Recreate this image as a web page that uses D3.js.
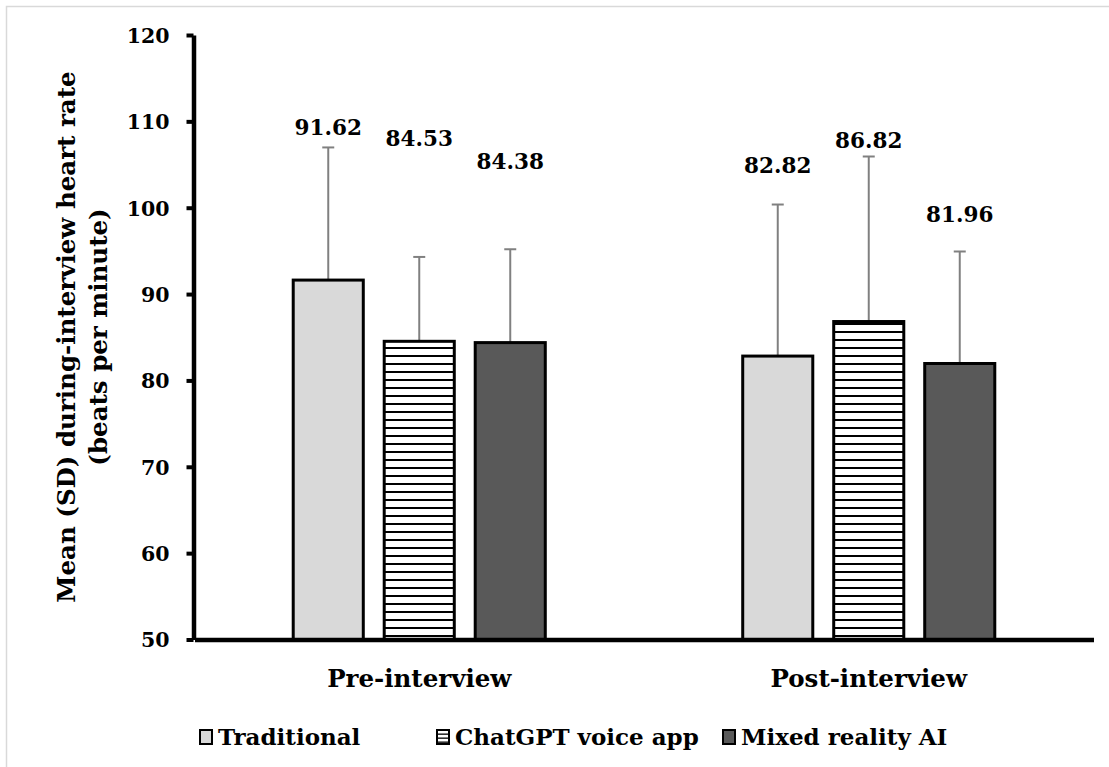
<!DOCTYPE html>
<html>
<head>
<meta charset="utf-8">
<script src="https://cdn.jsdelivr.net/npm/d3@7"></script>
<style>
  html, body { margin: 0; padding: 0; background: #fff; }
  svg { display: block; }
  text { font-family: "DejaVu Serif", serif; font-weight: bold; fill: #000; }
</style>
</head>
<body>
<svg id="chart" width="1109" height="767"></svg>
<script>
// ---- data ----
const categories = ["Pre-interview", "Post-interview"];
const series = ["Traditional", "ChatGPT voice app", "Mixed reality AI"];
const means = [
  [91.62, 84.53, 84.38],
  [82.82, 86.82, 81.96]
];
const sds = [
  [15.36, 9.77, 10.81],
  [17.55, 19.11, 12.97]
];
const yTicks = [50, 60, 70, 80, 90, 100, 110, 120];
const yTitle = ["Mean (SD) during-interview heart rate", "(beats per minute)"];

// ---- layout (manually placed label heights, in axis units) ----
const labelAt = [
  [108.4, 107.1, 104.5],
  [104.0, 106.9, 98.3]
];
const fills = ["#d9d9d9", "url(#stripes)", "#595959"];

const svg = d3.select("#chart");

// border (top & left visible)
svg.append("rect").attr("x", 6.5).attr("y", 6.5).attr("width", 1120).attr("height", 780)
  .attr("fill", "none").attr("stroke", "#d9d9d9").attr("stroke-width", 1.5);

const defs = svg.append("defs");
const pat = defs.append("pattern").attr("id", "stripes").attr("patternUnits", "userSpaceOnUse")
  .attr("width", 8).attr("height", 8);
pat.append("rect").attr("width", 8).attr("height", 8).attr("fill", "#fff");
pat.append("rect").attr("x", 0).attr("y", 3).attr("width", 8).attr("height", 2).attr("fill", "#000");
const patS = defs.append("pattern").attr("id", "stripesS").attr("patternUnits", "userSpaceOnUse")
  .attr("width", 4).attr("height", 4);
patS.append("rect").attr("width", 4).attr("height", 4).attr("fill", "#fff");
patS.append("rect").attr("x", 0).attr("y", 1.5).attr("width", 4).attr("height", 1.3).attr("fill", "#000");

const y = d3.scaleLinear().domain([50, 120]).range([639.5, 35]);
const x = d3.scaleBand().domain(categories).range([194.5, 1093.5]).padding(0);
const xs = d3.scaleBand().domain(series).range([-136.5, 136.5]).paddingInner(0.23).paddingOuter(0.115);

const numSize = 20.5, lblSize = 21.5, txtSize = 24.5, legSize = 23;

// bars
categories.forEach((c, ci) => {
  const g = svg.append("g").attr("transform", `translate(${x(c) + x.bandwidth() / 2},0)`);
  series.forEach((s, si) => {
    const m = means[ci][si], sd = sds[ci][si];
    const bx = xs(s), bw = xs.bandwidth(), cx = bx + bw / 2;
    // error bar
    g.append("line").attr("x1", cx).attr("x2", cx).attr("y1", y(m)).attr("y2", y(m + sd))
      .attr("stroke", "#808080").attr("stroke-width", 2);
    g.append("line").attr("x1", cx - 6).attr("x2", cx + 6).attr("y1", y(m + sd)).attr("y2", y(m + sd))
      .attr("stroke", "#808080").attr("stroke-width", 2);
    g.append("rect").attr("x", bx).attr("y", y(m)).attr("width", bw).attr("height", y(50) - y(m))
      .attr("fill", fills[si]).attr("stroke", "#000").attr("stroke-width", 3);
    g.append("text").attr("x", cx).attr("y", y(labelAt[ci][si])).attr("text-anchor", "middle")
      .attr("font-size", lblSize).text(m.toFixed(2));
  });
});

// y axis
const ya = svg.append("g").attr("transform", "translate(193.5,0)")
  .call(d3.axisLeft(y).tickValues(yTicks).tickSize(7).tickSizeOuter(0).tickPadding(17).tickFormat(d3.format("d")));
ya.select(".domain").attr("stroke", "#000").attr("stroke-width", 4.5);
ya.selectAll(".tick line").attr("stroke", "#000").attr("stroke-width", 4);
ya.selectAll(".tick text").attr("font-size", numSize).attr("font-family", null).attr("dy", "0.36em");

// x axis
const xa = svg.append("g").attr("transform", "translate(0,639.5)")
  .call(d3.axisBottom(x).tickSize(0).tickSizeOuter(0).tickPadding(30));
xa.select(".domain").attr("stroke", "#000").attr("stroke-width", 4.5);
xa.selectAll(".tick text").attr("font-size", txtSize).attr("font-family", null).attr("dy", "0.71em");

// y title
const yt = svg.append("text").attr("transform", "translate(84,337) rotate(-90)").attr("text-anchor", "middle")
  .attr("font-size", txtSize);
yt.selectAll("tspan").data(yTitle).join("tspan").attr("x", 0).attr("dy", (d, i) => i === 0 ? "-0.35em" : "1.3em").text(d => d);

// legend
const legX = [200, 437, 723];
const legFills = ["#d9d9d9", "url(#stripesS)", "#595959"];
series.forEach((s, i) => {
  svg.append("rect").attr("x", legX[i]).attr("y", 730).attr("width", 12).attr("height", 14)
    .attr("fill", legFills[i]).attr("stroke", "#000").attr("stroke-width", 2);
  svg.append("text").attr("x", legX[i] + 18).attr("y", 745).attr("font-size", legSize).text(s);
});
</script>
</body>
</html>
